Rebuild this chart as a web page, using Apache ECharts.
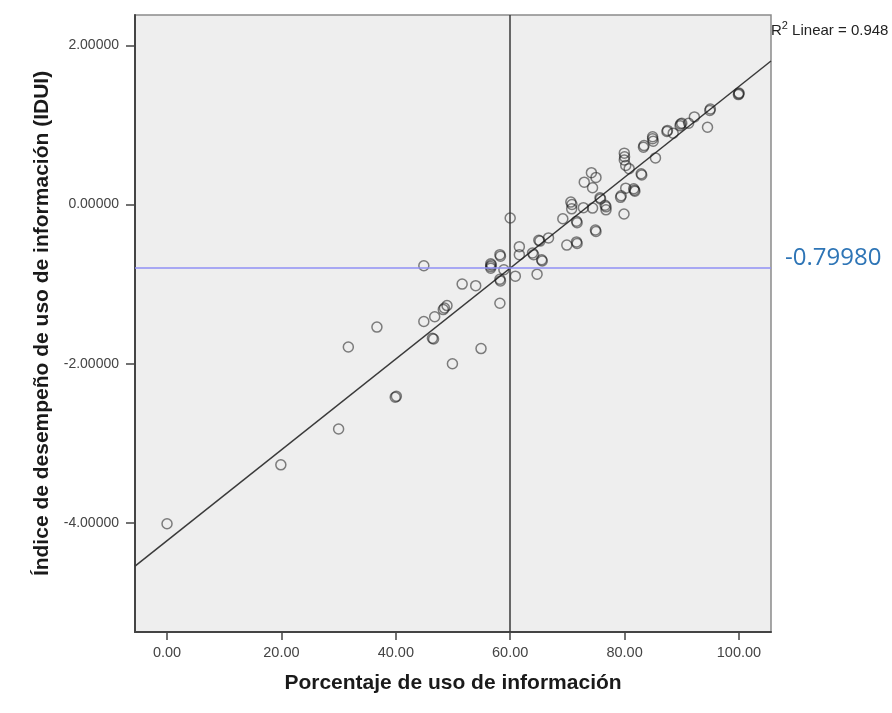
<!DOCTYPE html>
<html>
<head>
<meta charset="utf-8">
<script src="https://cdn.jsdelivr.net/npm/echarts@6/dist/echarts.min.js"></script>
<style>
html,body{margin:0;padding:0;background:#fff;}
#chart{width:892px;height:713px;}
</style>
</head>
<body>
<div id="chart"></div>
<script>
// Porcentaje de uso de información (x) and IDUI (y)
const xValues = [0, 19.9, 30.0, 39.9, 40.1, 31.7, 36.7, 44.9, 44.9, 46.8, 46.4, 46.6, 48.3, 48.95, 48.5, 49.9, 51.6, 53.97, 54.9,
  56.6, 56.6, 56.6, 56.7, 58.2, 58.3, 58.2, 58.3, 58.2, 58.9, 60.0, 60.9, 61.6, 61.6, 63.9, 64.1, 64.7, 65.0, 65.2, 65.5, 65.6,
  66.7, 69.9, 71.6, 71.7, 69.2, 71.6, 71.7, 70.6, 70.75, 70.8, 72.8, 74.4, 74.9, 75.0, 72.95, 74.2, 75.0, 74.4, 75.7, 75.8,
  76.75, 76.75, 76.6, 79.3, 79.4, 79.9, 79.95, 79.95, 80.0, 80.2, 80.8, 81.6, 81.8, 81.7, 82.9, 83.0, 80.2, 83.3, 83.4,
  84.9, 85.0, 84.9, 85.4, 87.4, 87.5, 88.5, 89.7, 89.8, 90.0, 91.2, 92.2, 94.5, 94.9, 95.0, 99.9, 100.0, 100.0];
const yValues = [-4.01, -3.27, -2.82, -2.42, -2.41, -1.79, -1.54, -1.47, -0.77, -1.41, -1.68, -1.69, -1.32, -1.27, -1.30, -2.00, -1.00, -1.02, -1.81,
  -0.745, -0.78, -0.80, -0.76, -0.63, -0.65, -0.94, -0.96, -1.24, -0.82, -0.17, -0.90, -0.53, -0.63, -0.61, -0.63, -0.875, -0.45, -0.46, -0.695, -0.71,
  -0.42, -0.51, -0.47, -0.49, -0.18, -0.21, -0.23, 0.03, -0.055, 0.00, -0.04, -0.045, -0.32, -0.34, 0.28, 0.40, 0.34, 0.21, 0.084, 0.07,
  -0.03, -0.067, -0.01, 0.09, 0.11, -0.12, 0.645, 0.56, 0.60, 0.49, 0.45, 0.197, 0.167, 0.18, 0.386, 0.37, 0.205, 0.72, 0.74,
  0.825, 0.795, 0.85, 0.585, 0.917, 0.93, 0.896, 0.99, 1.01, 1.02, 1.02, 1.10, 0.97, 1.18, 1.20, 1.38, 1.40, 1.39];
const xTicks = [0, 20, 40, 60, 80, 100];
const yTicks = [-4, -2, 0, 2];
const xRange = [-5.6, 105.6];
const yRange = [-5.37, 2.38];
const fitIntercept = -4.224;
const fitSlope = 0.05707;
const rSquared = 0.948;
const refX = 60;
const refY = -0.7998;

const points = xValues.map((x, i) => [x, yValues[i]]);
const fitLine = xRange.map(x => [x, fitIntercept + fitSlope * x]);

const chart = echarts.init(document.getElementById('chart'));
chart.setOption({
  animation: false,
  backgroundColor: '#ffffff',
  grid: {left: 135, right: 121, top: 15, bottom: 81, show: true,
    backgroundColor: '#EEEEEE', borderColor: '#8a8a8a', borderWidth: 1.5},
  xAxis: {
    type: 'value', min: xRange[0], max: xRange[1],
    name: 'Porcentaje de uso de información', nameLocation: 'middle', nameGap: 41,
    nameTextStyle: {fontFamily: 'Liberation Sans', fontWeight: 'bold', fontSize: 21, color: '#1a1a1a'},
    axisLine: {show: true, onZero: false, lineStyle: {color: '#444', width: 2}},
    axisTick: {show: true, length: 8, customValues: xTicks, lineStyle: {color: '#444', width: 1.5}},
    axisLabel: {customValues: xTicks, margin: 13, fontFamily: 'Liberation Sans', fontSize: 14.5, color: '#444',
      formatter: v => v.toFixed(2)},
    splitLine: {show: false}
  },
  yAxis: {
    type: 'value', min: yRange[0], max: yRange[1],
    name: 'Índice de desempeño de uso de información (IDUI)', nameLocation: 'middle', nameGap: 82,
    nameTextStyle: {fontFamily: 'Liberation Sans', fontWeight: 'bold', fontSize: 21, color: '#1a1a1a'},
    axisLine: {show: true, onZero: false, lineStyle: {color: '#444', width: 2}},
    axisTick: {show: true, length: 9, customValues: yTicks, lineStyle: {color: '#444', width: 1.5}},
    axisLabel: {customValues: yTicks, margin: 16, fontFamily: 'Liberation Sans', fontSize: 14, color: '#444',
      formatter: v => v.toFixed(5)},
    splitLine: {show: false}
  },
  series: [
    {
      type: 'line', data: fitLine, showSymbol: false, symbol: 'none', silent: true,
      lineStyle: {color: '#3a3a3a', width: 1.5}, z: 3,
      markLine: {
        silent: true, symbol: 'none', label: {show: false},
        data: [
          {xAxis: refX, lineStyle: {color: '#3a3a3a', width: 1.5, type: 'solid'}},
          {yAxis: refY, lineStyle: {color: '#8f8ff5', width: 1.5, type: 'solid'}}
        ]
      }
    },
    {
      type: 'scatter', data: points, symbol: 'circle', symbolSize: 10, z: 4,
      itemStyle: {color: 'rgba(0,0,0,0)', borderColor: 'rgba(25,25,25,0.68)', borderWidth: 1.5}
    }
  ],
  graphic: [
    {type: 'text', left: 771, top: 20, style: {
      text: '{r|R}{s|2}{r| Linear = ' + rSquared.toFixed(3) + '}',
      rich: {
        r: {fontFamily: 'Liberation Sans', fontSize: 15, fill: '#222', verticalAlign: 'bottom', lineHeight: 18},
        s: {fontFamily: 'Liberation Sans', fontSize: 11, fill: '#222', verticalAlign: 'top', lineHeight: 18, padding: [0, 0, 6, 0]}
      }
    }},
    {type: 'text', left: 785, top: 246, style: {
      text: refY.toFixed(5), fontFamily: 'Open Sans', fontSize: 24, fill: '#2E75B6'
    }}
  ]
});
</script>
</body>
</html>
